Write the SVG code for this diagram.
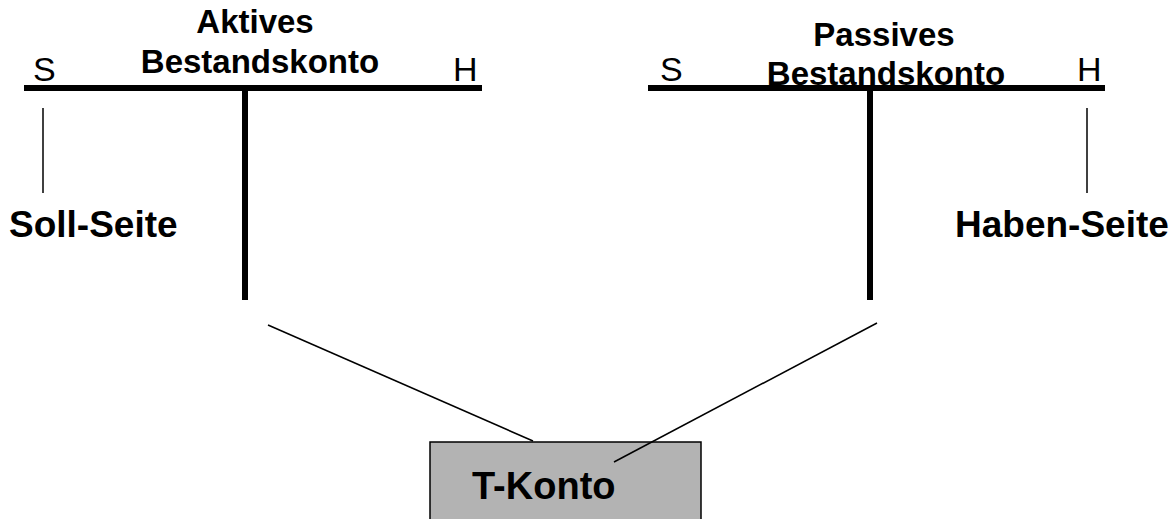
<svg xmlns="http://www.w3.org/2000/svg" width="1176" height="519" viewBox="0 0 1176 519">
<style>
.b{font-family:"Liberation Sans",Arial,sans-serif;font-weight:bold;fill:#000}
.r{font-family:"Liberation Sans",Arial,sans-serif;fill:#000;font-size:34px}
.h{font-size:33px;text-anchor:middle}
.thick{stroke:#000;stroke-width:6;fill:none}
.thin{stroke:#000;stroke-width:1.5;fill:none}
</style>
<rect width="1176" height="519" fill="#fff"/>
<g id="aktiv">
<text class="b h" x="255" y="33">Aktives</text>
<text class="b h" x="260" y="73">Bestandskonto</text>
<text class="r" x="33" y="81">S</text>
<text class="r" x="453" y="81">H</text>
<line class="thick" x1="24" y1="88" x2="482" y2="88"/>
<line class="thick" x1="245" y1="88" x2="245" y2="300"/>
</g>
<g id="passiv">
<text class="b h" x="884" y="46">Passives</text>
<text class="b h" x="886" y="85">Bestandskonto</text>
<text class="r" x="660" y="81">S</text>
<text class="r" x="1077" y="81">H</text>
<line class="thick" x1="648" y1="88" x2="1105" y2="88"/>
<line class="thick" x1="870" y1="88" x2="870" y2="300"/>
</g>
<g id="soll">
<text class="b" x="9" y="237" font-size="37">Soll-Seite</text>
</g>
<g id="haben">
<text class="b" x="955" y="237" font-size="37">Haben-Seite</text>
</g>
<g id="tkonto">
<rect x="430" y="442" width="271" height="90" fill="#b3b3b3" stroke="#000" stroke-width="1.5"/>
<text class="b" x="472" y="499" font-size="38">T-Konto</text>
</g>
<g id="connectors">
<line class="thin" x1="43" y1="108" x2="43" y2="193"/>
<line class="thin" x1="1087" y1="108" x2="1087" y2="193"/>
<line class="thin" x1="268" y1="325" x2="533" y2="441"/>
<line class="thin" x1="877" y1="323" x2="614" y2="462"/>
</g>
</svg>
